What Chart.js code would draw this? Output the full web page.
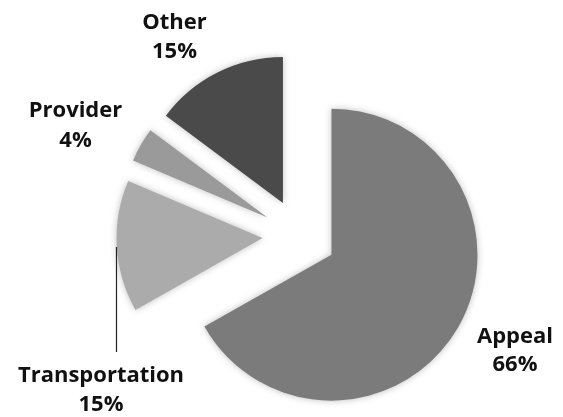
<!DOCTYPE html>
<html>
<head>
<meta charset="utf-8">
<script src="https://cdn.jsdelivr.net/npm/chart.js@4/dist/chart.umd.min.js"></script>
<style>
  html, body { margin: 0; padding: 0; background: #fff; }
  #wrap { width: 563px; height: 417px; position: relative; }
</style>
</head>
<body>
<div id="wrap"><canvas id="pie"></canvas></div>
<script>
// ── DATA ──
const categories = ['Appeal', 'Transportation', 'Provider', 'Other'];
const shares     = [66.8, 14.6, 3.8, 14.8];
const shareText  = ['66%', '15%', '4%', '15%'];

// ── STYLE ──
const sliceColors = ['#7b7b7b', '#ababab', '#9a9a9a', '#4a4a4a'];
const explode     = 37;   // px every slice is pulled out along its mid angle
// label anchors relative to the pie centre: [dx, name baseline dy, value baseline dy]
const labelPos = [[215.5, 107, 134.5], [-198.5, 146, 175], [-224, -119.5, -89.5], [-125, -207, -178]];

// Chart.js' own offset option also grows the radius and trims the angles,
// so draw each arc element ourselves, shifted out along its mid angle.
const explodePlugin = {
  id: 'explode',
  beforeDatasetsDraw(chart) {
    const ctx = chart.ctx;
    const meta = chart.getDatasetMeta(0);
    ctx.save();
    ctx.shadowColor = 'rgba(0,0,0,0.25)';
    ctx.shadowBlur = 7;
    meta.data.forEach(arc => {
      const mid = (arc.startAngle + arc.endAngle) / 2;
      ctx.save();
      ctx.translate(Math.cos(mid) * explode, Math.sin(mid) * explode);
      arc.draw(ctx);
      ctx.restore();
    });
    ctx.restore();
    return false;
  }
};

// two-line labels + leader line for Transportation
const labelPlugin = {
  id: 'sliceLabels',
  afterDraw(chart) {
    const ctx = chart.ctx;
    const arc0 = chart.getDatasetMeta(0).data[0];
    const cx = arc0.x, cy = arc0.y;
    ctx.save();
    ctx.fillStyle = '#111';
    ctx.font = 'bold 22px "Open Sans", sans-serif';
    ctx.textAlign = 'center';
    ctx.textBaseline = 'alphabetic';
    categories.forEach((name, i) => {
      const [dx, dyName, dyVal] = labelPos[i];
      ctx.fillText(name, cx + dx, cy + dyName);
      ctx.fillText(shareText[i], cx + dx, cy + dyVal);
    });
    // leader line from Transportation slice down to its label
    ctx.strokeStyle = '#222';
    ctx.lineWidth = 1.2;
    ctx.beginPath();
    ctx.moveTo(cx - 183, cy + 11);
    ctx.lineTo(cx - 183, cy + 116);
    ctx.stroke();
    ctx.restore();
  }
};

new Chart(document.getElementById('pie'), {
  type: 'pie',
  data: {
    labels: categories,
    datasets: [{
      data: shares,
      backgroundColor: sliceColors,
      borderWidth: 0,
      radius: 146
    }]
  },
  options: {
    responsive: true,
    maintainAspectRatio: false,
    animation: false,
    events: [],
    layout: { padding: { left: 36, right: 0, top: 55, bottom: 0 } },
    plugins: { legend: { display: false }, tooltip: { enabled: false } }
  },
  plugins: [explodePlugin, labelPlugin]
});
</script>
</body>
</html>
